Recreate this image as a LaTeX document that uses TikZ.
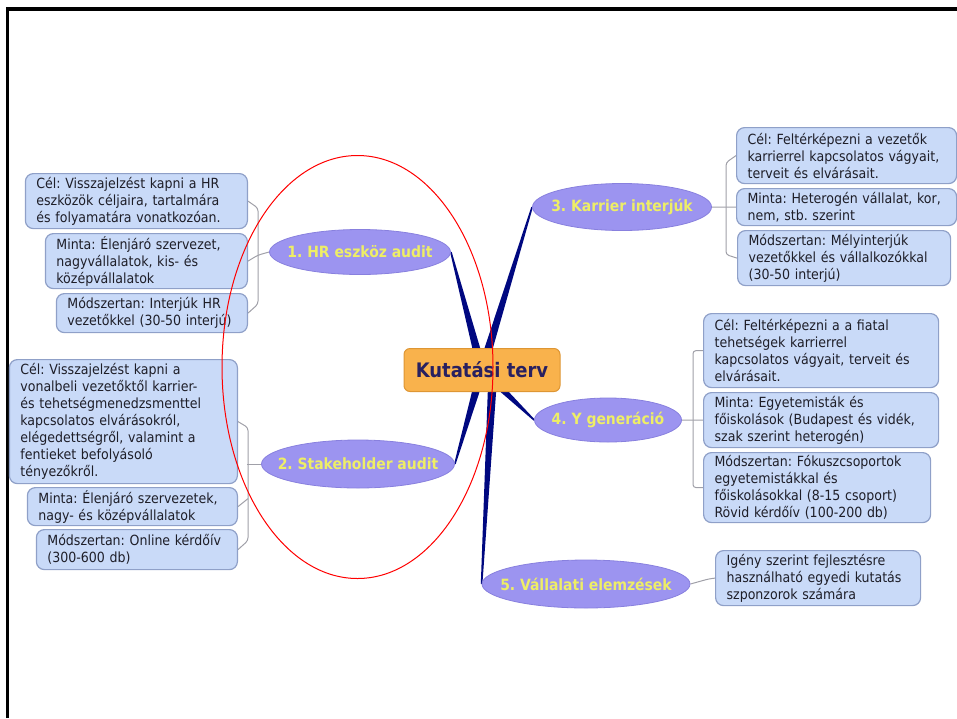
\documentclass[tikz,border=0pt]{standalone}
\usepackage{fontspec}
\setmainfont{DejaVu Sans Condensed}
\usepackage{tikz}
\usetikzlibrary{shapes.geometric,calc,backgrounds}
\definecolor{leafblue}{RGB}{201,218,248}
\definecolor{leafline}{RGB}{143,160,200}
\definecolor{leaftext}{RGB}{30,30,40}
\definecolor{branchfill}{RGB}{156,148,240}
\definecolor{branchline}{RGB}{136,128,222}
\definecolor{branchtext}{RGB}{238,238,102}
\definecolor{hubfill}{RGB}{249,178,76}
\definecolor{hubline}{RGB}{222,150,52}
\definecolor{hubtext}{RGB}{40,32,96}
\definecolor{spokeblue}{RGB}{0,8,128}
\definecolor{twiggray}{RGB}{160,160,168}
\frenchspacing

\begin{document}
\begin{tikzpicture}[x=1pt, y=-1pt,
  hub/.style={rectangle, rounded corners=6pt, fill=hubfill, draw=hubline, line width=1pt, text=hubtext, font=\fontsize{20}{24}\selectfont\bfseries, minimum width=156pt, minimum height=43pt},
  branch/.style={ellipse, fill=branchfill, draw=branchline, line width=0.8pt, text=branchtext, font=\fontsize{15.5}{18}\selectfont\bfseries, inner xsep=-20pt, inner ysep=0pt},
  leaf/.style={rectangle, rounded corners=8pt, fill=leafblue, draw=leafline, line width=1.2pt, text=leaftext, align=left, inner xsep=11pt, inner ysep=2pt, font=\fontsize{14}{17}\selectfont},
  twig/.style={draw=twiggray, line width=1pt, rounded corners=3pt},
  spoke/.style={fill=spokeblue}]
\useasboundingbox (0,0) rectangle (957,718);

\draw[line width=3.5pt] (7.5,718) -- (7.5,9) -- (957,9);

\node[hub] (plan) at (482,370) {Kutatási terv};

\node[branch, minimum width=181pt, minimum height=45pt] (hr) at (360,252) {1. HR eszköz audit};
\node[branch, minimum width=193pt, minimum height=48pt] (sh) at (358,464) {2. Stakeholder audit};
\node[branch, minimum width=179pt, minimum height=47pt] (kar) at (622,207) {3. Karrier interjúk};
\node[branch, minimum width=147pt, minimum height=44pt] (yg) at (608,420) {4. Y generáció};
\node[branch, minimum width=208pt, minimum height=48pt] (va) at (586,584) {5. Vállalati elemzések};

\node[leaf, anchor=north east, text width=200pt, minimum height=55pt] (hrcel) at (248,173) {Cél: Visszajelzést kapni a HR\\eszközök céljaira, tartalmára\\és folyamatára vonatkozóan.};
\node[leaf, anchor=north east, text width=180pt, minimum height=55pt] (hrmin) at (248,233) {Minta: Élenjáró szervezet,\\nagyvállalatok, kis- és\\középvállalatok};
\node[leaf, anchor=north east, text width=169pt, minimum height=39pt] (hrmod) at (248,293) {Módszertan: Interjúk HR\\vezetőkkel (30-50 interjú)};

\node[leaf, anchor=north east, text width=206pt, minimum height=124pt] (shcel) at (238,359) {Cél: Visszajelzést kapni a\\vonalbeli vezetőktől karrier-\\és tehetségmenedzsmenttel\\kapcsolatos elvárásokról,\\elégedettségről, valamint a\\fentieket befolyásoló\\tényezőkről.};
\node[leaf, anchor=north east, text width=188pt, minimum height=38pt] (shmin) at (238,487) {Minta: Élenjáró szervezetek,\\nagy- és középvállalatok};
\node[leaf, anchor=north east, text width=179pt, minimum height=40pt] (shmod) at (238,529) {Módszertan: Online kérdőív\\(300-600 db)};

\node[leaf, anchor=north west, text width=198pt, minimum height=56pt] (karcel) at (736,127) {Cél: Feltérképezni a vezetők\\karrierrel kapcsolatos vágyait,\\terveit és elvárásait.};
\node[leaf, anchor=north west, text width=198pt, minimum height=37pt] (karmin) at (736,188) {Minta: Heterogén vállalat, kor,\\nem, stb. szerint};
\node[leaf, anchor=north west, text width=191pt, minimum height=55pt] (karmod) at (737,230) {Módszertan: Mélyinterjúk\\vezetőkkel és vállalkozókkal\\(30-50 interjú)};

\node[leaf, anchor=north west, text width=213pt, minimum height=74pt] (ygcel) at (703,313) {Cél: Feltérképezni a a fiatal\\tehetségek karrierrel\\kapcsolatos vágyait, terveit és\\elvárásait.};
\node[leaf, anchor=north west, text width=213pt, minimum height=55pt] (ygmin) at (703,392) {Minta: Egyetemisták és\\főiskolások (Budapest és vidék,\\szak szerint heterogén)};
\node[leaf, anchor=north west, text width=205pt, minimum height=70pt] (ygmod) at (703,452) {Módszertan: Fókuszcsoportok\\egyetemistákkal és\\főiskolásokkal (8-15 csoport)\\Rövid kérdőív (100-200 db)};

\node[leaf, anchor=north west, text width=183pt, minimum height=55pt] (vacel) at (715,550) {Igény szerint fejlesztésre\\használható egyedi kutatás\\szponzorok számára};

\coordinate (vabase) at (493,372);

\begin{scope}[on background layer]
\fill[spoke] ($(plan.center)!4.5pt!90:(hr.east)$) -- ($(hr.east)!0.8pt!-90:(plan.center)$) -- ($(hr.east)!0.8pt!90:(plan.center)$) -- ($(plan.center)!4.5pt!-90:(hr.east)$) -- cycle;
\fill[spoke] ($(plan.center)!4.5pt!90:(sh.east)$) -- ($(sh.east)!0.8pt!-90:(plan.center)$) -- ($(sh.east)!0.8pt!90:(plan.center)$) -- ($(plan.center)!4.5pt!-90:(sh.east)$) -- cycle;
\fill[spoke] ($(plan.center)!4.5pt!90:(kar.west)$) -- ($(kar.west)!0.8pt!-90:(plan.center)$) -- ($(kar.west)!0.8pt!90:(plan.center)$) -- ($(plan.center)!4.5pt!-90:(kar.west)$) -- cycle;
\fill[spoke] ($(plan.center)!4.5pt!90:(yg.west)$) -- ($(yg.west)!0.8pt!-90:(plan.center)$) -- ($(yg.west)!0.8pt!90:(plan.center)$) -- ($(plan.center)!4.5pt!-90:(yg.west)$) -- cycle;
\fill[spoke] ($(vabase)!4.5pt!90:(va.west)$) -- ($(va.west)!0.8pt!-90:(vabase)$) -- ($(va.west)!0.8pt!90:(vabase)$) -- ($(vabase)!4.5pt!-90:(va.west)$) -- cycle;

\draw[twig] (hrcel.east) -- ++(10,7) -- ++(0,96) -- (hrmod.east);
\draw[twig] (hrmin.east) -- ++(10,-6) -- (hr.west);
\draw[twig] (shcel.east) -- ++(10,6) -- ++(0,113) -- (shmod.east);
\draw[twig] (shmin.east) -- ++(10,-8);
\draw[twig] (sh.west) -- ++(-14,0);
\draw[twig] (karcel.west) -- ++(-10,7) -- ++(0,92) -- (karmod.west);
\draw[twig] (kar.east) -- (karmin.west);
\draw[twig] (ygcel.west) -- ++(-10,0) -- ++(0,137) -- (ygmod.west);
\draw[twig] (yg.east) -- (ygmin.west);
\draw[twig] (va.east) -- ++(18,-5) -- (vacel.west);
\end{scope}

\draw[red, line width=1pt] (357.5,367) ellipse [x radius=135.5, y radius=211.5];
\end{tikzpicture}
\end{document}
